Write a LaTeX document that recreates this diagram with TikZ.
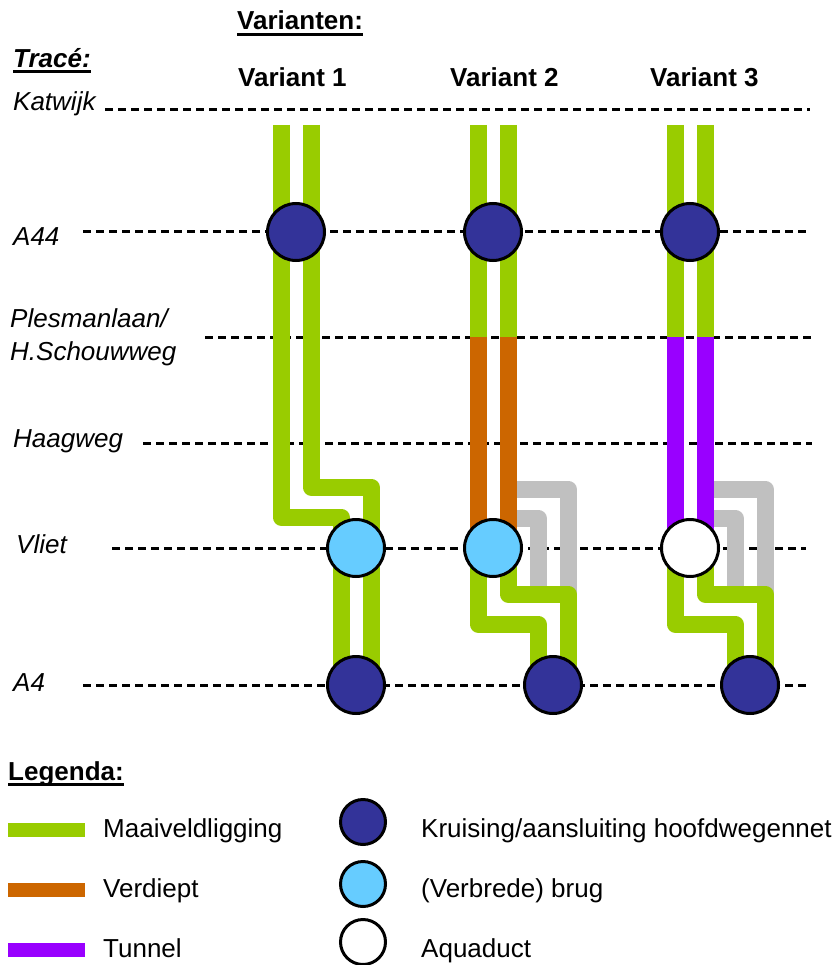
\documentclass[tikz,border=0pt]{standalone}
\usepackage{fontspec}
\setmainfont{Liberation Sans}
\usetikzlibrary{positioning}
\definecolor{maaiveldgroen}{RGB}{153,204,0}
\definecolor{verdieptoranje}{RGB}{204,102,0}
\definecolor{tunnelpaars}{RGB}{153,0,255}
\definecolor{omleidinggrijs}{RGB}{192,192,192}
\definecolor{kruisingblauw}{RGB}{51,51,153}
\definecolor{brugblauw}{RGB}{102,204,255}

\begin{document}
\begin{tikzpicture}[x=1pt, y=-1pt,
    peil/.style={draw, dash pattern=on 8pt off 5pt, line width=3pt},
    maaiveld/.style={draw=maaiveldgroen, line width=17pt, line join=round},
    verdiept/.style={draw=verdieptoranje, line width=17pt, line join=round},
    tunnel/.style={draw=tunnelpaars, line width=17pt, line join=round},
    omleiding/.style={draw=omleidinggrijs, line width=17pt, line join=round},
    legendabalk/.style={line width=14pt},
    kruising/.style={circle, draw, line width=3pt, fill=kruisingblauw,
        minimum size=57pt, inner sep=0pt},
    brug/.style={kruising, fill=brugblauw},
    aquaduct/.style={kruising, fill=white},
    legendarondje/.style={minimum size=45pt},
    plaats/.style={anchor=base west, inner sep=0pt,
        font=\fontsize{26}{30}\selectfont\itshape},
    kop/.style={anchor=base west, inner sep=0pt,
        font=\fontsize{26}{30}\selectfont\bfseries},
    uitleg/.style={anchor=base west, inner sep=0pt,
        font=\fontsize{26}{30}\selectfont},
    onderstreep/.style={line width=3pt}
]
\useasboundingbox (0,0) rectangle (835,965);

% koppen
\node (Varianten) [kop] at (237,30) {Varianten:};
\node (Trace) [kop, font=\fontsize{26}{30}\selectfont\bfseries\itshape] at (13,68) {Tracé:};
\node (Variant1) [kop] at (238,87) {Variant 1};
\node (Variant2) [kop] at (450,87) {Variant 2};
\node (Variant3) [kop] at (650,87) {Variant 3};
\draw[onderstreep] ([yshift=-5pt]Varianten.base west) -- ([yshift=-5pt]Varianten.base east);
\draw[onderstreep] ([yshift=-3.5pt]Trace.base west) -- ([yshift=-3.5pt]Trace.base east);

% trace
\node (Katwijk) [plaats] at (13,111) {Katwijk};
\node (A44) [plaats] at (13,246) {A44};
\node (Plesmanlaan) [plaats] at (10,327) {Plesmanlaan/};
\node (Schouwweg) [plaats] at (10,360) {H.Schouwweg};
\node (Haagweg) [plaats] at (13,447) {Haagweg};
\node (Vliet) [plaats] at (16,553) {Vliet};
\node (A4) [plaats] at (13,691) {A4};

\draw[peil] (105,110) -- (810,110);
\draw[peil] (83,232) -- (808,232);
\draw[peil] (205,337) -- (812,337);
\draw[peil] (143,443) -- (812,443);
\draw[peil] (112,548) -- (806,548);
\draw[peil] (83,685) -- (808,685);

% variant 1
\draw[maaiveld] (281,125) -- (281,517) -- (341,517) -- (341,685);
\draw[maaiveld] (311,125) -- (311,487) -- (371,487) -- (371,685);
\node (KruisingA44V1) [kruising] at (296,232) {};
\node (BrugV1) [brug] at (356,548) {};
\node (KruisingA4V1) [kruising] at (356,685) {};

% variant 2
\draw[omleiding] (508,489) -- (568,489) -- (568,594);
\draw[omleiding] (508,518) -- (538,518) -- (538,594);
\draw[maaiveld] (478,125) -- (478,337);
\draw[maaiveld] (508,125) -- (508,337);
\draw[verdiept] (478,337) -- (478,548);
\draw[verdiept] (508,337) -- (508,548);
\draw[maaiveld] (478,548) -- (478,624) -- (538,624) -- (538,685);
\draw[maaiveld] (508,548) -- (508,594) -- (568,594) -- (568,685);
\node (KruisingA44V2) [kruising] at (493,232) {};
\node (BrugV2) [brug] at (493,548) {};
\node (KruisingA4V2) [kruising] at (553,685) {};

% variant 3
\draw[omleiding] (705,489) -- (765,489) -- (765,594);
\draw[omleiding] (705,518) -- (735,518) -- (735,594);
\draw[maaiveld] (675,125) -- (675,337);
\draw[maaiveld] (705,125) -- (705,337);
\draw[tunnel] (675,337) -- (675,548);
\draw[tunnel] (705,337) -- (705,548);
\draw[maaiveld] (675,548) -- (675,624) -- (735,624) -- (735,685);
\draw[maaiveld] (705,548) -- (705,594) -- (765,594) -- (765,685);
\node (KruisingA44V3) [kruising] at (690,232) {};
\node (AquaductV3) [aquaduct] at (690,548) {};
\node (KruisingA4V3) [kruising] at (750,685) {};

% legenda
\node (Legenda) [kop] at (8,780) {Legenda:};
\draw[onderstreep] ([yshift=-4pt]Legenda.base west) -- ([yshift=-4pt]Legenda.base east);

\draw[maaiveld, legendabalk] (8,830) -- (85,830);
\draw[verdiept, legendabalk] (8,890) -- (85,890);
\draw[tunnel, legendabalk] (8,950) -- (85,950);
\node (Maaiveldligging) [uitleg] at (103,837) {Maaiveldligging};
\node (Verdiept) [uitleg] at (103,897) {Verdiept};
\node (Tunnel) [uitleg] at (103,957) {Tunnel};

\node (LegKruising) [kruising, legendarondje] at (363,822) {};
\node (LegBrug) [brug, legendarondje] at (363,884) {};
\node (LegAquaduct) [aquaduct, legendarondje] at (363,942) {};
\node (Hoofdwegennet) [uitleg] at (421,837) {Kruising/aansluiting hoofdwegennet};
\node (Brug) [uitleg] at (421,897) {(Verbrede) brug};
\node (Aquaduct) [uitleg] at (421,957) {Aquaduct};

\end{tikzpicture}
\end{document}
